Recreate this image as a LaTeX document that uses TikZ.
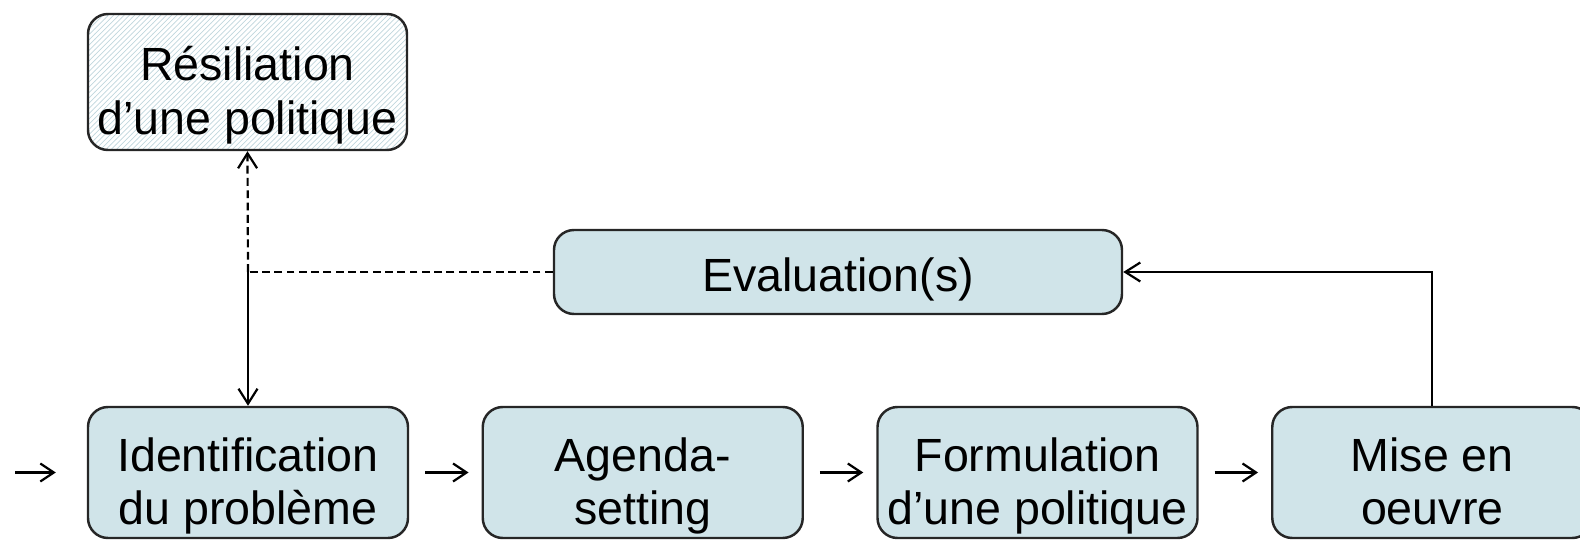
\documentclass[tikz,border=0pt]{standalone}
\usepackage{fontspec}
\setmainfont{Liberation Sans}
\usetikzlibrary{arrows.meta,patterns}
\definecolor{stageblue}{RGB}{208,228,233}
\definecolor{hatchblue}{RGB}{192,214,221}
\newcommand{\twolines}[2]{\rule{0pt}{1.22cm}#1\\#2\rule[-0.2cm]{0pt}{0.2cm}}

\begin{document}
\begin{tikzpicture}[node distance=7.895cm,
  stage/.style={draw=black!85, line width=1.4pt, fill=stageblue, rounded corners=0.4cm,
    align=center, inner sep=0pt, minimum width=6.4cm, minimum height=2.62cm,
    font=\fontsize{26.5}{30.7}\selectfont},
  link/.style={line width=1.25pt, -{Straight Barb[length=0.27cm,width=0.36cm]},
    shorten <=0.32cm, shorten >=0.26cm},
  feed/.style={line width=1.25pt, -{Straight Barb[length=0.3cm,width=0.38cm]}},
  dashlink/.style={line width=1.25pt, dash pattern=on 4.5pt off 2.5pt}]
  \clip (0,0) rectangle (31.6,-10.8);
  \node[stage] (31) at (4.96,-9.45) {\twolines{Identification}{du problème}};
  \node[stage, right of=31] (32) {\twolines{Agenda-}{setting}};
  \node[stage, right of=32] (33) {\twolines{Formulation}{d’une politique}};
  \node[stage, right of=33] (34) {\twolines{Mise en}{oeuvre}};
  \node[stage, minimum width=11.36cm, minimum height=1.68cm] (21) at (16.76,-5.44)
    {\rule{0pt}{0.98cm}Evaluation(s)\rule[-0.2cm]{0pt}{0.2cm}};
  \node[stage, fill=none, pattern=north east lines, pattern color=hatchblue,
    minimum width=6.38cm, minimum height=2.72cm] (11) at (4.95,-1.64)
    {\twolines{Résiliation}{d’une politique}};
  \coordinate (30) at (0.3,-9.45);
  \coordinate (22) at (21.west -| 31.north);
  \path (30) edge[link, shorten <=0pt, shorten >=0.62cm] (31)
        (31) edge[link] (32)
        (32) edge[link] (33)
        (33) edge[link] (34);
  \draw[dashlink] (21.west) -- (22);
  \draw[dashlink, -{Straight Barb[length=0.3cm,width=0.38cm]}] (22) -- (11.south);
  \draw[feed] (22) -- (31.north);
  \draw[feed] (34.north) |- (21.east);
\end{tikzpicture}
\end{document}
